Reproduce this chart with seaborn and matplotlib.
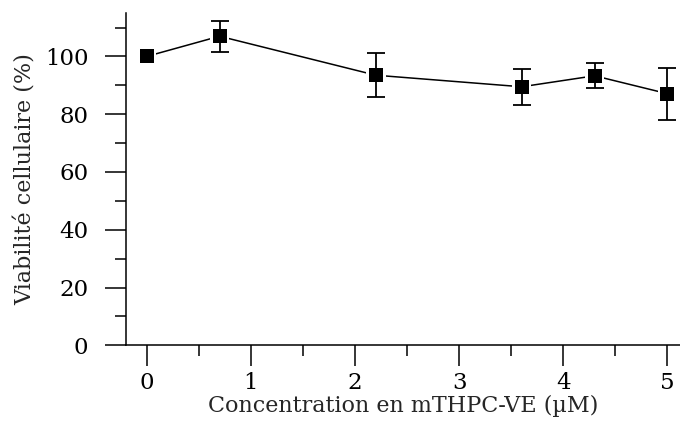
import matplotlib
matplotlib.use("Agg")
import matplotlib.pyplot as plt
import seaborn as sns
import pandas as pd
from matplotlib.ticker import MultipleLocator

# Data
concentration = [0.0, 0.7, 2.2, 3.6, 4.3, 5.0]
viability = [100.0, 107.0, 93.5, 89.5, 93.3, 87.1]
error = [0.0, 5.3, 7.6, 6.2, 4.3, 9.0]
x_ticks = [0, 1, 2, 3, 4, 5]
y_ticks = [0, 20, 40, 60, 80, 100]

df = pd.DataFrame({"conc": concentration, "viab": viability, "err": error})
df_err = df[df["err"] > 0]

sns.set_style("ticks")
plt.rcParams["font.family"] = ["DejaVu Serif"]

fig = plt.figure(figsize=(6.8, 4.23), dpi=100)
ax = fig.add_axes([0.185, 0.1837, 0.815, 0.7853])

sns.lineplot(data=df, x="conc", y="viab", ax=ax, color="black", linewidth=1.1,
             zorder=1, errorbar=None, sort=False)
# white halos to create small gaps between line and markers
ax.scatter(df["conc"], df["viab"], marker="s", s=14**2, color="white",
           edgecolor="none", zorder=2)
ax.errorbar(df_err["conc"], df_err["viab"], yerr=df_err["err"], fmt="none",
            ecolor="black", elinewidth=1.3, capsize=6.5, capthick=1.3, zorder=3)
sns.scatterplot(data=df, x="conc", y="viab", ax=ax, marker="s", s=9.5**2,
                color="black", edgecolor="black", linewidth=0, zorder=4)

ax.set_xlim(-0.2, 5.12)
ax.set_ylim(0, 115)
ax.set_xticks(x_ticks)
ax.set_yticks(y_ticks)
ax.xaxis.set_minor_locator(MultipleLocator(0.5))
ax.yaxis.set_minor_locator(MultipleLocator(10))

ax.tick_params(axis="both", which="major", direction="out", length=15, width=1.1,
               labelsize=16.5, color="black", labelcolor="black")
ax.tick_params(axis="both", which="minor", direction="out", length=8, width=1.1,
               color="black")
ax.tick_params(axis="x", which="major", pad=4)
ax.tick_params(axis="y", which="major", pad=12)

for side in ["top", "right"]:
    ax.spines[side].set_visible(False)
for side in ["left", "bottom"]:
    ax.spines[side].set_linewidth(1.1)
    ax.spines[side].set_color("black")

ax.set_xlabel("Concentration en mTHPC-VE (µM)", fontsize=16, labelpad=1)
ax.set_ylabel("Viabilité cellulaire (%)", fontsize=16, labelpad=6)

fig.savefig("out.png", dpi=100, facecolor="white")
